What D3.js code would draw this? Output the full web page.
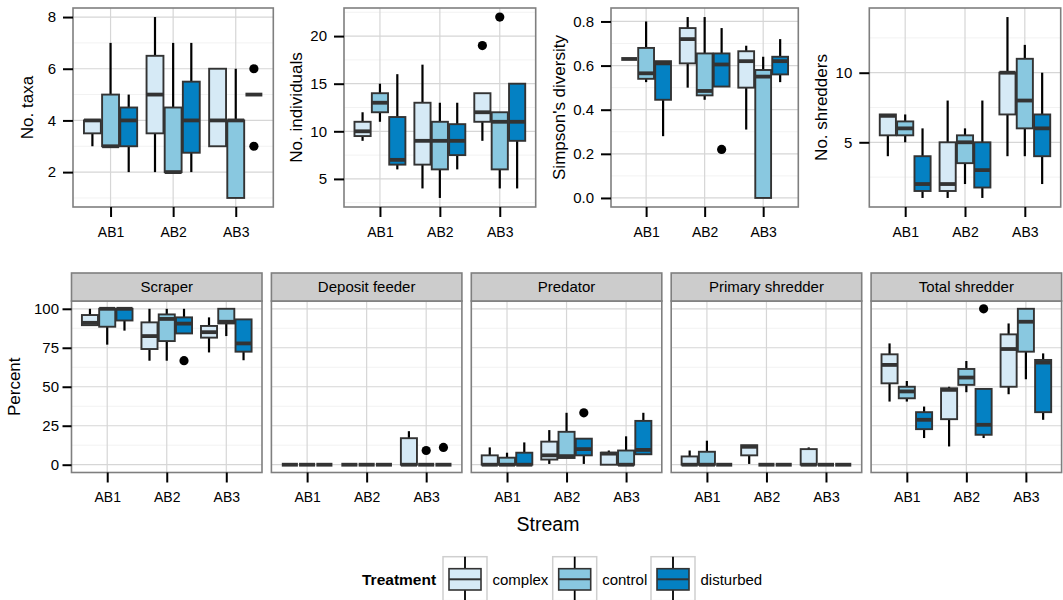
<!DOCTYPE html>
<html>
<head>
<meta charset="utf-8">
<script src="https://cdn.jsdelivr.net/npm/d3@7"></script>
<style>
  body { margin: 0; background: #fff; }
  text { font-family: "Liberation Sans", Arial, Helvetica, sans-serif; }
</style>
</head>
<body>
<div id="chart-container"></div>
<script>
const streams = ["AB1", "AB2", "AB3"];
const treatments = ["complex", "control", "disturbed"];
const fills = ["#d6eaf6", "#89c8e0", "#0481c3"];

// box stats per stream x treatment: [lower whisker, q1, median, q3, upper whisker]
const taxaStats = [
  [3, 3.5, 4, 4, 4], [3, 3, 3, 5, 7], [2, 3, 4, 4.5, 5],
  [2, 3.5, 5, 6.5, 8], [2, 2, 2, 4.5, 7], [2, 2.75, 4, 5.5, 7],
  [3, 3, 4, 6, 6], [1, 1, 4, 4, 6], [5, 5, 5, 5, 5]
];
const taxaOut = [["AB3", "disturbed", 6], ["AB3", "disturbed", 3]];

const indivStats = [
  [9, 9.5, 10, 11, 12], [11, 12, 13, 14, 15], [6, 6.5, 7, 11.5, 16],
  [4, 6.5, 9, 13, 17], [3, 6, 9, 11, 13], [6, 7.5, 9, 10.75, 13],
  [9, 11, 12, 14, 14], [4, 6, 11, 12, 12], [4, 9, 11, 15, 15]
];
const indivOut = [["AB3", "complex", 19], ["AB3", "control", 22]];

const simpsonStats = [
  [0.63, 0.63, 0.63, 0.63, 0.63], [0.525, 0.54, 0.565, 0.68, 0.8], [0.28, 0.445, 0.61, 0.62, 0.62],
  [0.5, 0.61, 0.72, 0.77, 0.82], [0.445, 0.465, 0.485, 0.655, 0.82], [0.505, 0.505, 0.605, 0.655, 0.77],
  [0.31, 0.5, 0.62, 0.665, 0.69], [0, 0, 0.55, 0.58, 0.64], [0.525, 0.56, 0.62, 0.64, 0.72]
];
const simpsonOut = [["AB2", "disturbed", 0.22]];

const shredStats = [
  [4, 5.5, 6.9, 7, 7], [5, 5.5, 6, 6.5, 7], [1, 1.5, 2, 4, 6],
  [1, 1.5, 2, 5, 8], [2, 3.5, 5, 5.5, 6], [1, 1.75, 3, 5, 8],
  [4, 7, 10, 10, 14], [4, 6, 8, 11, 12], [2, 4, 6, 7, 10]
];
const shredOut = [];

// percent facets
const groups = ["Scraper", "Deposit feeder", "Predator", "Primary shredder", "Total shredder"];

const scraperStats = [
  [89.5, 89.5, 91, 96, 100], [77, 88.5, 100, 100, 100], [86, 92.5, 100, 100, 100],
  [66.7, 74.2, 82.5, 91.3, 100], [66.7, 79.3, 93.5, 96.4, 100], [84.2, 84.2, 90.5, 94.5, 100],
  [72, 81.5, 85, 89, 94.5], [82.5, 90.6, 91.7, 100, 100], [67, 72.5, 77.8, 93.2, 93.2]
];
const scraperOut = [["AB2", "disturbed", 66.7]];

const depositStats = [
  [0, 0, 0, 0, 0], [0, 0, 0, 0, 0], [0, 0, 0, 0, 0],
  [0, 0, 0, 0, 0], [0, 0, 0, 0, 0], [0, 0, 0, 0, 0],
  [0, 0, 0, 17, 21.5], [0, 0, 0, 0, 0], [0, 0, 0, 0, 0]
];
const depositOut = [["AB3", "control", 9.1], ["AB3", "disturbed", 11.1]];

const predatorStats = [
  [0, 0, 0, 6, 11.1], [0, 0, 0, 4.5, 7.7], [0, 0, 0, 7.7, 14.3],
  [0.5, 3.3, 6, 14.8, 22.2], [4.3, 4.3, 5.5, 21.1, 33.3], [0.5, 6, 10, 16.7, 16.7],
  [0, 0, 7.1, 7.7, 9.1], [0, 0, 0, 9.1, 18.2], [6.7, 6.7, 9.5, 28.1, 33.3]
];
const predatorOut = [["AB2", "disturbed", 33.3]];

const primaryStats = [
  [0, 0, 0, 5.3, 9.1], [0, 0, 0, 8.3, 15.4], [0, 0, 0, 0, 0],
  [0.5, 6, 11.5, 12.5, 12.5], [0, 0, 0, 0, 0], [0, 0, 0, 0, 0],
  [0, 0, 0, 10, 11.1], [0, 0, 0, 0, 0], [0, 0, 0, 0, 0]
];
const primaryOut = [];

const totalStats = [
  [40.5, 52.2, 64, 70.8, 77.8], [40.5, 42.6, 47, 50, 53.7], [17.1, 22.8, 28.8, 33.7, 37.3],
  [11.7, 29.2, 48, 49, 50], [46.5, 51.2, 55.9, 61.4, 66.5], [17.1, 19.2, 25.6, 48.6, 49],
  [45.2, 50, 74.2, 83.6, 90.6], [54.8, 72.5, 91.7, 100, 100], [28.8, 33.7, 65.5, 67.2, 71.4]
];
const totalOut = [["AB2", "disturbed", 100]];

const percentTicks = [0, 25, 50, 75, 100];
const percentMinor = [12.5, 37.5, 62.5, 87.5];

const svg = d3.select("#chart-container")
  .append("svg")
  .attr("width", 1063)
  .attr("height", 600);

function drawPanel(p) {
  const g = svg.append("g").attr("transform", `translate(${p.left}, ${p.top})`);

  const x = d3.scalePoint().domain(streams).range([0, p.width]).padding(0.6);
  const dodge = d3.scaleBand().domain(treatments)
    .range([-0.435 * x.step(), 0.435 * x.step()]);
  const y = d3.scaleLinear().domain(p.domain).range([p.height, 0]);
  const bw = 0.27 * x.step();

  g.append("rect").attr("width", p.width).attr("height", p.height).attr("fill", "#fff");

  //minor grid
  g.selectAll(".minor").data(p.minor).join("line")
    .attr("x1", 0).attr("x2", p.width)
    .attr("y1", (d) => y(d)).attr("y2", (d) => y(d))
    .attr("stroke", "#f2f2f2").attr("stroke-width", 1);

  //major grid
  g.selectAll(".major").data(p.ticks).join("line")
    .attr("x1", 0).attr("x2", p.width)
    .attr("y1", (d) => y(d)).attr("y2", (d) => y(d))
    .attr("stroke", "#d6d6d6").attr("stroke-width", 1.2);

  g.selectAll(".vgrid").data(streams).join("line")
    .attr("x1", (d) => x(d)).attr("x2", (d) => x(d))
    .attr("y1", 0).attr("y2", p.height)
    .attr("stroke", "#d6d6d6").attr("stroke-width", 1.2);

  const rows = p.stats.map((s, i) => ({
    stream: streams[Math.floor(i / 3)],
    treat: treatments[i % 3],
    fill: fills[i % 3],
    lw: s[0], q1: s[1], med: s[2], q3: s[3], uw: s[4]
  }));
  const cx = (d) => x(d.stream) + dodge(d.treat) + dodge.bandwidth() / 2;

  const box = g.selectAll(".box").data(rows).join("g")
    .attr("transform", (d) => `translate(${cx(d)}, 0)`);

  //whiskers
  box.append("line")
    .attr("y1", (d) => y(d.q3)).attr("y2", (d) => y(d.uw))
    .attr("stroke", "#000").attr("stroke-width", 2.2);
  box.append("line")
    .attr("y1", (d) => y(d.q1)).attr("y2", (d) => y(d.lw))
    .attr("stroke", "#000").attr("stroke-width", 2.2);

  box.append("rect")
    .attr("x", -bw / 2).attr("width", bw)
    .attr("y", (d) => y(d.q3))
    .attr("height", (d) => y(d.q1) - y(d.q3))
    .attr("fill", (d) => d.fill)
    .attr("stroke", "#333").attr("stroke-width", 1.9);

  box.append("line")
    .attr("x1", -bw / 2).attr("x2", bw / 2)
    .attr("y1", (d) => y(d.med)).attr("y2", (d) => y(d.med))
    .attr("stroke", "#333").attr("stroke-width", 3.8);

  g.selectAll(".out").data(p.outliers).join("circle")
    .attr("cx", (d) => x(d[0]) + dodge(d[1]) + dodge.bandwidth() / 2)
    .attr("cy", (d) => y(d[2]))
    .attr("r", 4.6)
    .attr("fill", "#000");

  //panel border
  g.append("rect").attr("width", p.width).attr("height", p.height)
    .attr("fill", "none").attr("stroke", "#7f7f7f").attr("stroke-width", 1.6);

  //Add the y-axis
  if (p.yAxis) {
    const ya = g.append("g")
      .call(d3.axisLeft(y).tickValues(p.ticks).tickSize(p.tickLen).tickPadding(p.pad).tickFormat(p.fmt));
    ya.select(".domain").remove();
    ya.selectAll(".tick line").attr("stroke", "#000").attr("stroke-width", 2);
    ya.selectAll(".tick text").attr("font-size", 15).attr("fill", "#000")
      .style("font-family", '"Liberation Sans", Arial, sans-serif');
  }

  //Add the x-axis
  const xa = g.append("g")
    .attr("transform", `translate(0, ${p.height})`)
    .call(d3.axisBottom(x).tickSize(10).tickPadding(10));
  xa.select(".domain").remove();
  xa.selectAll(".tick line").attr("stroke", "#000").attr("stroke-width", 2);
  xa.selectAll(".tick text").attr("font-size", 14).attr("fill", "#000")
    .style("font-family", '"Liberation Sans", Arial, sans-serif');

  //strip
  if (p.strip) {
    g.append("rect")
      .attr("y", -28).attr("width", p.width).attr("height", 28)
      .attr("fill", "#cccccc").attr("stroke", "#7f7f7f").attr("stroke-width", 1.6);
    g.append("text")
      .attr("x", p.width / 2).attr("y", -14).attr("dy", "0.35em")
      .attr("text-anchor", "middle").attr("font-size", 15)
      .text(p.strip);
  }

  //Add Y-axis label
  if (p.ylab) {
    svg.append("text")
      .attr("transform", `translate(${p.ylabX}, ${p.top + p.height / 2}) rotate(-90)`)
      .attr("dy", "0.36em")
      .attr("text-anchor", "middle")
      .attr("font-size", 17)
      .text(p.ylab);
  }
}

// top row
const topPanels = [
  { left: 73, width: 200.3, ylab: "No. taxa", ylabX: 27, stats: taxaStats, outliers: taxaOut,
    domain: [0.65, 8.35], ticks: [2, 4, 6, 8], minor: [1, 3, 5, 7], fmt: d3.format("d") },
  { left: 344, width: 191.7, ylab: "No. individuals", ylabX: 295.5, stats: indivStats, outliers: indivOut,
    domain: [2.05, 22.95], ticks: [5, 10, 15, 20], minor: [2.5, 7.5, 12.5, 17.5, 22.5], fmt: d3.format("d") },
  { left: 611, width: 187.3, ylab: "Simpson's diversity", ylabX: 559, stats: simpsonStats, outliers: simpsonOut,
    domain: [-0.041, 0.861], ticks: [0, 0.2, 0.4, 0.6, 0.8], minor: [0.1, 0.3, 0.5, 0.7], fmt: d3.format(".1f") },
  { left: 869.3, width: 191.4, ylab: "No. shredders", ylabX: 821, stats: shredStats, outliers: shredOut,
    domain: [0.35, 14.65], ticks: [5, 10], minor: [2.5, 7.5, 12.5], fmt: d3.format("d") }
];
topPanels.forEach((p) => drawPanel(Object.assign({ top: 8, height: 199, yAxis: true, tickLen: 10, pad: 7 }, p)));

// bottom row facets
const bottomStats = [scraperStats, depositStats, predatorStats, primaryStats, totalStats];
const bottomOut = [scraperOut, depositOut, predatorOut, primaryOut, totalOut];
groups.forEach((name, i) => {
  drawPanel({
    left: 71.5 + i * 199.9, top: 301, width: 190.5, height: 171.5,
    strip: name, stats: bottomStats[i], outliers: bottomOut[i],
    domain: [-5, 105], ticks: percentTicks, minor: percentMinor, fmt: d3.format("d"),
    yAxis: i === 0, tickLen: 9, pad: 3.5,
    ylab: i === 0 ? "Percent" : null, ylabX: 14
  });
});

//x title
svg.append("text")
  .attr("x", 548).attr("y", 531)
  .attr("text-anchor", "middle").attr("font-size", 19.5)
  .text("Stream");

//legend
const legendKeyX = [443, 552.7, 651];
const legend = svg.append("g");
legend.append("text")
  .attr("x", 362).attr("y", 584.5)
  .attr("font-size", 15.5).attr("font-weight", "bold")
  .text("Treatment");

treatments.forEach((t, i) => {
  const kx = legendKeyX[i];
  legend.append("text")
    .attr("x", kx + 49.5).attr("y", 584.5)
    .attr("font-size", 15)
    .text(t);
  const k = legend.append("g").attr("transform", `translate(${kx}, 556.7)`);
  k.append("rect").attr("width", 44).attr("height", 44)
    .attr("fill", "#fff").attr("stroke", "#cfcfcf").attr("stroke-width", 1.5);
  k.append("line").attr("x1", 22).attr("x2", 22).attr("y1", 0).attr("y2", 44)
    .attr("stroke", "#000").attr("stroke-width", 1.8);
  k.append("rect").attr("x", 6).attr("y", 12).attr("width", 32).attr("height", 21.3)
    .attr("fill", fills[i]).attr("stroke", "#333").attr("stroke-width", 1.6);
  k.append("line").attr("x1", 6).attr("x2", 38).attr("y1", 22.6).attr("y2", 22.6)
    .attr("stroke", "#333").attr("stroke-width", 2);
});
</script>
</body>
</html>
